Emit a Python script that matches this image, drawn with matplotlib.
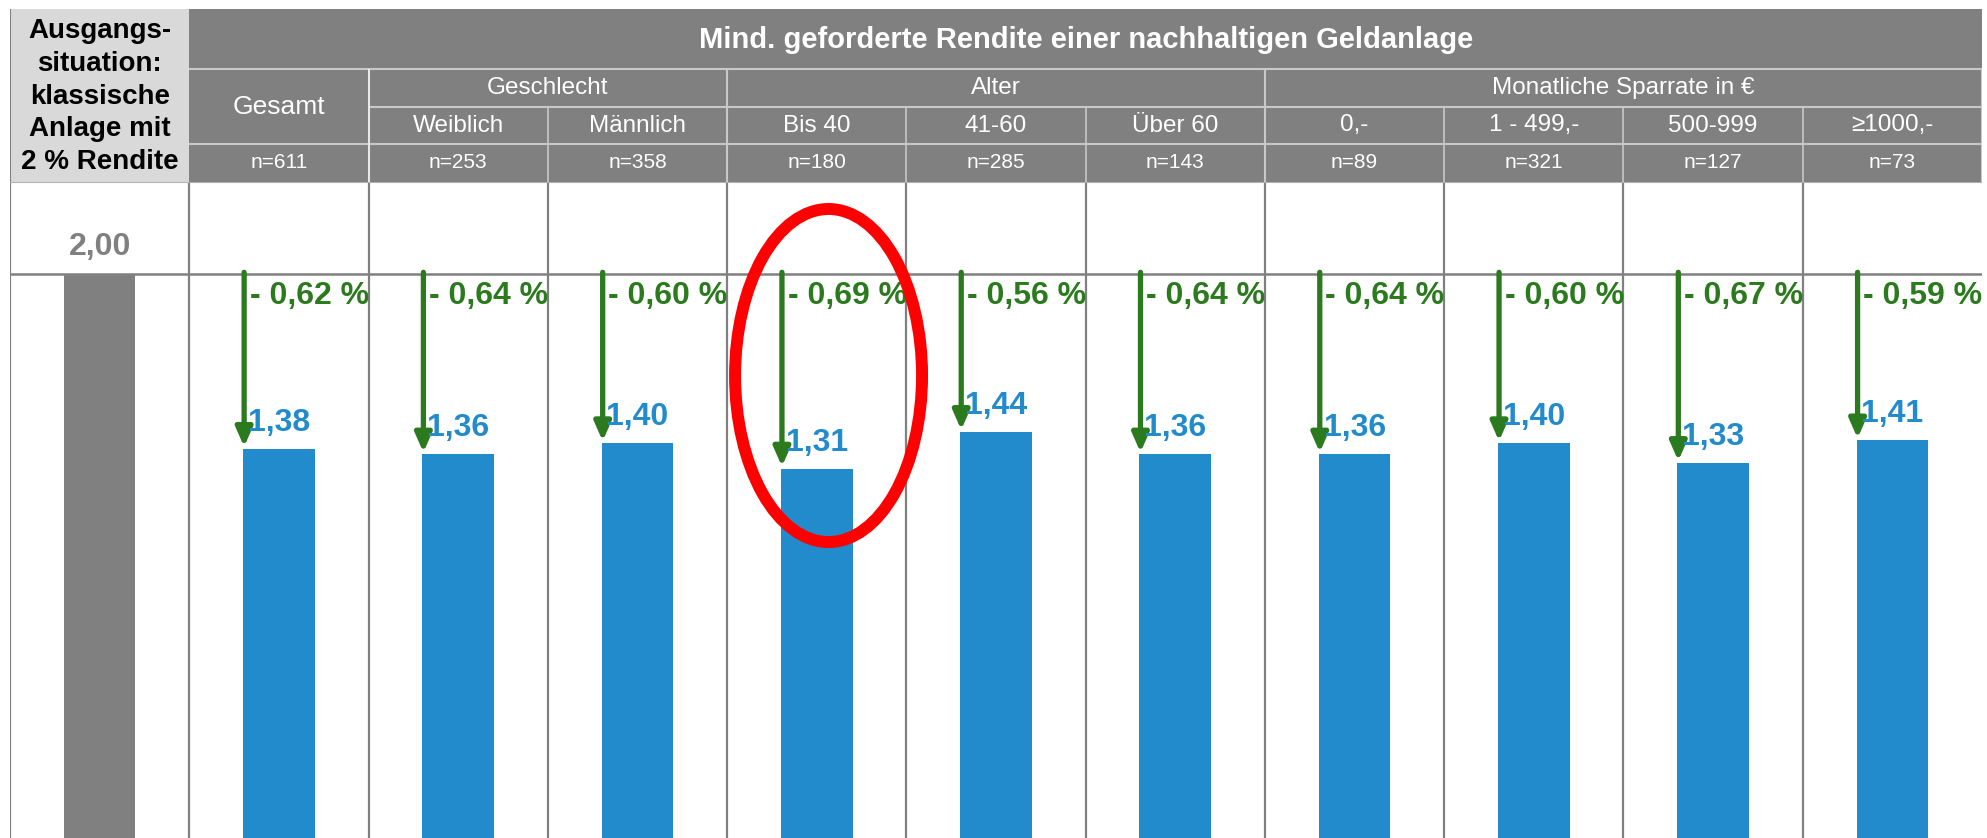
import matplotlib.pyplot as plt
from matplotlib.patches import Rectangle, Ellipse

plt.rcParams['font.family'] = ['Liberation Sans', 'DejaVu Sans']

# data
title = "Mind. geforderte Rendite einer nachhaltigen Geldanlage"
start_label = "Ausgangs-\nsituation:\nklassische\nAnlage mit\n2 % Rendite"
categories = ['Gesamt', 'Weiblich', 'Männlich', 'Bis 40', '41-60', 'Über 60',
              '0,-', '1 - 499,-', '500-999', '≥1000,-']
n_values = [611, 253, 358, 180, 285, 143, 89, 321, 127, 73]
groups = ['Geschlecht', 'Alter', 'Monatliche Sparrate in €']
group_sizes = [2, 3, 4]
baseline = 2.00
values = [1.38, 1.36, 1.40, 1.31, 1.44, 1.36, 1.36, 1.40, 1.33, 1.41]
drops = [0.62, 0.64, 0.60, 0.69, 0.56, 0.64, 0.64, 0.60, 0.67, 0.59]
highlight = 'Bis 40'

gray = '#808080'
light = '#d9d9d9'
blue = '#228bcb'
green = '#2b7a1e'

W, H = 1987, 838
fig = plt.figure(figsize=(W / 100, H / 100), dpi=100)

# layout in pixels
left, right = 10, 1982
top, head_bot = 9, 182
row1, row2, row3 = 69, 107, 144
px_per_unit = 282

ax = fig.add_axes([left / W, 0, (right - left) / W, (H - head_bot) / H])
hx = fig.add_axes([left / W, (H - head_bot) / H, (right - left) / W, (head_bot - top) / H])
ncol = len(categories) + 1
for a in (ax, hx):
    a.set_xlim(-0.5, ncol - 0.5)
    a.axis('off')
ax.set_ylim(0, (H - head_bot) / px_per_unit)
hx.set_ylim(head_bot, top)

# ---- header table ----
hx.add_patch(Rectangle((-0.5, top), 1, head_bot - top, color=light, lw=0))
hx.add_patch(Rectangle((0.5, top), ncol - 1, head_bot - top, color=gray, lw=0))
hx.text(0, (top + head_bot) / 2 + 1, start_label, ha='center', va='center',
        fontsize=20, fontweight='bold', color='black', linespacing=1.33)
hx.text((ncol - 1) / 2 + 0.5, (top + row1) / 2 + 1, title, ha='center', va='center',
        fontsize=21, fontweight='bold', color='white')
hx.text(1, (row1 + row3) / 2, categories[0], ha='center', va='center',
        fontsize=19, color='white')

lc = '#c8c8c8'
hx.hlines(row1, 0.5, ncol - 0.5, color=lc, lw=1.5)
hx.hlines(row2, 1.5, ncol - 0.5, color=lc, lw=1.5)
hx.hlines(row3, 0.5, ncol - 0.5, color=lc, lw=1.5)
hx.vlines(-0.5, top, head_bot, color=gray, lw=1.5)
hx.vlines(ncol - 0.5, row1, head_bot, color=lc, lw=1.5)

start = 2
for g, size in zip(groups, group_sizes):
    hx.text(start + (size - 1) / 2, (row1 + row2) / 2, g, ha='center', va='center',
            fontsize=17.5, color='white')
    hx.vlines(start - 0.5, row1, head_bot, color='#e8e8e8' if start == 2 else lc, lw=1.5)
    for k in range(1, size):
        hx.vlines(start - 0.5 + k, row2, head_bot, color=lc, lw=1.2)
    start += size

for i, (c, n) in enumerate(zip(categories, n_values), start=1):
    if i > 1:
        hx.text(i, (row2 + row3) / 2, c, ha='center', va='center', fontsize=17.5, color='white')
    hx.text(i, (row3 + head_bot) / 2, f'n={n}', ha='center', va='center', fontsize=15, color='white')

# ---- chart body ----
ax.vlines([x - 0.5 for x in range(ncol)], 0, ax.get_ylim()[1], color=gray, lw=1.6, zorder=1)
ax.axhline(ax.get_ylim()[1], color='#b0b0b0', lw=1.5, zorder=1)
ax.axhline(baseline, color=gray, lw=1.8, zorder=1)

ax.bar(0, baseline, width=0.4, color=gray, zorder=2)
ax.bar(range(1, ncol), values, width=0.4, color=blue, zorder=2)
ax.annotate(f'{baseline:.2f}'.replace('.', ','), xy=(0, baseline), xytext=(0, 13.5),
            textcoords='offset points', ha='center', va='baseline',
            fontsize=23, fontweight='bold', color=gray)

for i, (v, d) in enumerate(zip(values, drops), start=1):
    xl = i - 0.2 + 0.006
    ax.annotate('', xy=(xl, v), xytext=(xl, baseline + 0.006),
                arrowprops=dict(arrowstyle='-|>,head_length=0.75,head_width=0.33',
                                mutation_scale=15, lw=3.8, color=green,
                                shrinkA=0, shrinkB=1.5), zorder=3)
    ax.annotate(f'- {d:.2f} %'.replace('.', ','), xy=(xl, baseline), xytext=(4, -5),
                textcoords='offset points', ha='left', va='top',
                fontsize=23, fontweight='bold', color=green, zorder=3)
    ax.annotate(f'{v:.2f}'.replace('.', ','), xy=(i - 0.2, v), xytext=(3.5, 13),
                textcoords='offset points', ha='left', va='baseline',
                fontsize=23, fontweight='bold', color=blue, zorder=3)

# red highlight ring
hi = categories.index(highlight) + 1
ax.add_patch(Ellipse((hi + 0.066, 1.64), 1.043, 1.181, fill=False, ec='#ff0000',
                     lw=8.6, zorder=5))

fig.savefig('out.png', dpi=100)
